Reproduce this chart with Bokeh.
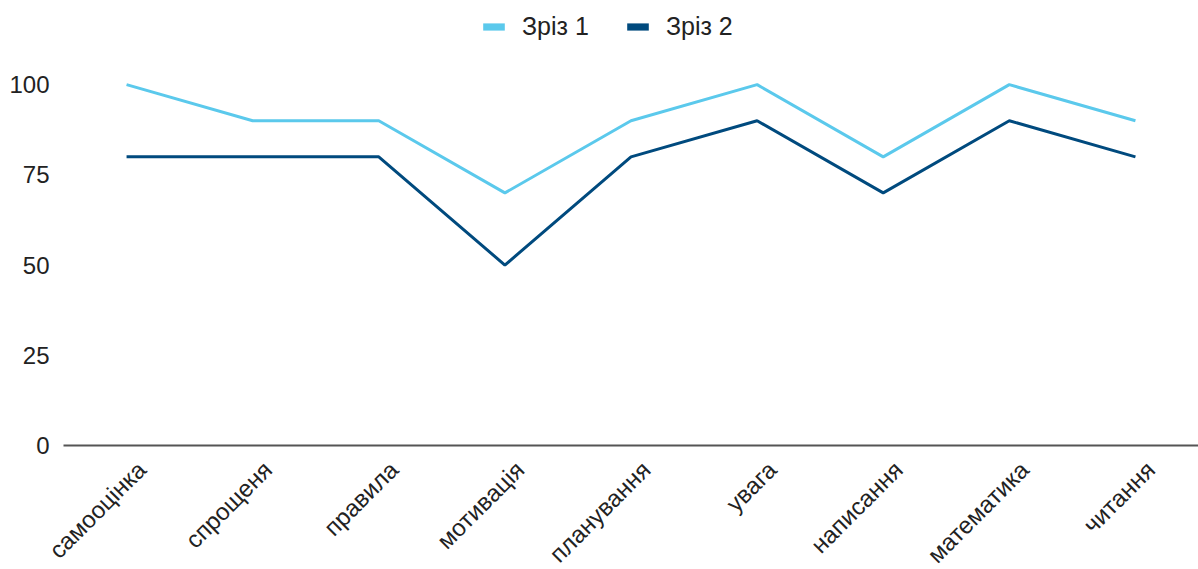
from bokeh.plotting import figure
from bokeh.models import (Range1d, Legend, LegendItem, ColumnDataSource,
                          LinearAxis, FixedTicker, LinearScale)
from bokeh.embed import file_html
from bokeh.resources import INLINE
import math

categories = ["самооцінка", "спрощеня", "правила", "мотивація", "планування",
              "увага", "написання", "математика", "читання"]
zriz1 = [100, 90, 90, 70, 90, 100, 80, 100, 90]
zriz2 = [80, 80, 80, 50, 80, 90, 70, 90, 80]
series_names = ["Зріз 1", "Зріз 2"]
y_ticks = [0, 25, 50, 75, 100]

FONT = "Liberation Sans"
TEXT = "#222222"
LIGHT = "#5BC9EC"
DARK = "#004A7E"

# the rotated category names sit slightly right of their points
LABEL_SHIFT = 0.12  # in category widths

n = len(categories)
idx = list(range(n))  # each category occupies one unit slot centred on its index

p = figure(frame_width=1135, frame_height=433, output_backend="svg", toolbar_location=None,
           x_range=Range1d(-0.5, n - 0.5),
           y_range=Range1d(0, 120), x_axis_location=None,
           min_border_left=63, min_border_right=0,
           min_border_top=12, min_border_bottom=124)
p.outline_line_color = None
p.background_fill_color = "white"
p.border_fill_color = "white"
p.xgrid.grid_line_color = None
p.ygrid.grid_line_color = None

src = ColumnDataSource(dict(x=idx, cat=categories, z1=zriz1, z2=zriz2))
r1 = p.line("x", "z1", source=src, line_color=LIGHT, line_width=3)
r2 = p.line("x", "z2", source=src, line_color=DARK, line_width=3)

# solid block swatches for the legend (no visible geometry)
nan = float("nan")
s1 = p.quad(left=[nan], right=[nan], top=[nan], bottom=[nan],
            fill_color=LIGHT, line_color=None)
s2 = p.quad(left=[nan], right=[nan], top=[nan], bottom=[nan],
            fill_color=DARK, line_color=None)

# y axis: labels only
p.yaxis.ticker = y_ticks
p.yaxis.axis_line_color = None
p.yaxis.major_tick_line_color = None
p.yaxis.minor_tick_line_color = None
p.yaxis.major_label_text_font = FONT
p.yaxis.major_label_text_font_size = "24px"
p.yaxis.major_label_text_color = TEXT
p.yaxis.major_label_standoff = 8

# x axis: baseline plus rotated category names, on an index range nudged right
p.extra_x_ranges = {"names": Range1d(-0.5 - LABEL_SHIFT, n - 0.5 - LABEL_SHIFT)}
p.extra_x_scales = {"names": LinearScale()}
xaxis = LinearAxis(x_range_name="names",
                   ticker=FixedTicker(ticks=idx),
                   major_label_overrides={i: c for i, c in zip(idx, categories)})
xaxis.axis_line_color = "#555555"
xaxis.axis_line_width = 2
xaxis.major_tick_line_color = None
xaxis.minor_tick_line_color = None
xaxis.major_label_orientation = math.pi / 4
xaxis.major_label_text_font = FONT
xaxis.major_label_text_font_size = "24px"
xaxis.major_label_text_color = TEXT
xaxis.major_label_standoff = 14
p.add_layout(xaxis, "below")

legend = Legend(items=[LegendItem(label=series_names[0], renderers=[s1]),
                       LegendItem(label=series_names[1], renderers=[s2])],
                location=(417, 404), orientation="horizontal",
                label_text_font=FONT, label_text_font_size="25px",
                label_text_color=TEXT, label_height=26, label_standoff=15,
                glyph_width=27, glyph_height=9, spacing=35,
                border_line_color=None, background_fill_alpha=0,
                margin=0, padding=0)
p.add_layout(legend, "center")

open("out.html", "w").write(file_html(p, INLINE))
